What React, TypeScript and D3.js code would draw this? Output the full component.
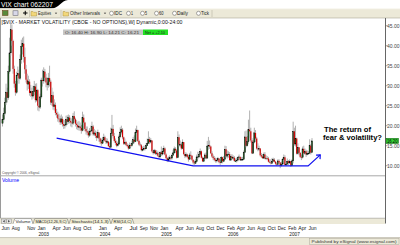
import React from "react";
import * as d3 from "d3";

// ---------- DATA (weekly $VIX bars, Jun 2002 - Jun 2007) ----------
const firstWeek = "2002-06-07";
const lastWeek = "2007-06-22";
const firstOpen = 20.6;

const close2002 = [21.5, 23.0, 25.8, 28.4, 27.0, 33.5, 38.2, 44.0, 41.2, 34.2, 30.5, 28.3, 32.6, 33.1, 31.8, 36.5, 39.8, 40.5, 37.2, 34.1, 31.5, 30.4, 31.0, 28.2, 28.6, 27.4, 28.5, 29.8, 26.4, 28.9];
const high2002 = [22.8, 24.5, 27.0, 30.5, 29.5, 35.0, 42.0, 45.8, 45.3, 41.5, 35.0, 31.2, 33.5, 34.8, 34.0, 37.8, 41.5, 42.0, 42.3, 39.5, 35.2, 33.0, 32.5, 31.6, 30.2, 29.5, 30.0, 31.2, 30.5, 30.6];
const low2002 = [19.8, 21.0, 22.6, 25.2, 25.8, 26.5, 33.0, 37.5, 40.0, 33.0, 29.5, 27.5, 28.0, 31.2, 30.5, 31.5, 35.5, 37.8, 35.8, 33.0, 30.8, 28.8, 29.2, 27.5, 27.2, 26.5, 26.8, 27.6, 25.8, 26.0];

const close2003 = [25.0, 24.6, 27.2, 31.4, 31.2, 33.5, 32.0, 30.8, 30.2, 31.9, 31.0, 25.8, 27.6, 24.8, 25.2, 23.2, 22.8, 21.8, 21.6, 20.9, 21.7, 20.4, 20.0, 20.2, 21.6, 21.0, 22.0, 21.2, 20.8, 20.6, 22.4, 21.6, 20.5, 20.2, 19.6, 19.8, 19.4, 18.8, 22.0, 20.8, 19.2, 18.6, 18.3, 17.6, 18.5, 18.7, 19.8, 17.9, 18.2, 17.5, 17.0, 18.3];
const high2003 = [29.2, 26.8, 28.0, 32.0, 34.0, 34.6, 34.2, 33.0, 32.0, 33.2, 35.0, 31.5, 29.5, 28.5, 26.6, 25.8, 24.2, 23.5, 23.0, 22.5, 22.8, 22.3, 21.5, 21.4, 22.5, 22.6, 22.8, 22.6, 22.0, 21.8, 23.2, 23.6, 22.0, 21.4, 21.0, 21.2, 20.8, 20.2, 23.5, 22.8, 21.0, 19.8, 19.8, 18.8, 19.4, 20.0, 21.0, 20.2, 19.2, 18.8, 18.5, 19.0];
const low2003 = [23.8, 23.6, 24.2, 26.8, 29.8, 30.5, 31.0, 29.6, 28.8, 29.5, 29.8, 25.2, 25.0, 24.0, 23.8, 22.6, 22.0, 21.0, 20.8, 20.2, 20.3, 19.8, 19.2, 19.3, 19.8, 20.2, 20.5, 20.6, 19.8, 19.6, 20.2, 20.8, 19.8, 19.1, 18.9, 18.8, 18.7, 18.0, 18.6, 19.9, 18.6, 17.8, 17.6, 17.0, 17.2, 17.6, 18.4, 17.5, 17.4, 16.9, 16.2, 16.8];

const close2004 = [16.8, 16.0, 15.6, 16.4, 17.1, 16.3, 15.9, 16.0, 14.9, 14.6, 18.0, 19.2, 17.4, 16.2, 15.7, 15.0, 15.4, 17.2, 18.4, 19.0, 17.1, 15.5, 15.9, 15.2, 14.9, 14.3, 15.1, 15.0, 15.6, 16.5, 16.0, 18.3, 18.9, 16.2, 15.3, 15.1, 13.9, 14.0, 14.4, 14.2, 15.0, 15.6, 16.6, 15.9, 16.3, 13.6, 13.2, 13.8, 13.0, 13.2, 12.5, 12.2, 13.3];
const high2004 = [18.2, 17.0, 16.8, 17.2, 18.0, 17.5, 16.9, 16.8, 16.2, 15.8, 19.5, 22.7, 20.2, 18.2, 16.8, 16.3, 16.0, 17.8, 19.6, 20.0, 19.4, 17.3, 16.8, 16.2, 15.6, 15.3, 15.8, 15.6, 16.3, 17.2, 17.6, 19.3, 20.0, 19.0, 16.5, 15.8, 15.4, 14.8, 15.0, 15.0, 15.6, 16.8, 18.6, 17.2, 16.9, 16.2, 14.0, 14.2, 14.0, 13.9, 13.6, 13.0, 13.6];
const low2004 = [16.0, 15.4, 15.0, 15.4, 16.2, 16.0, 15.4, 15.5, 14.6, 14.1, 14.5, 17.6, 16.8, 15.8, 15.1, 14.6, 14.8, 15.2, 16.9, 17.8, 16.6, 15.2, 15.2, 14.9, 14.6, 14.0, 14.2, 14.6, 14.8, 15.4, 15.6, 15.9, 17.6, 15.9, 15.0, 14.8, 13.6, 13.6, 13.8, 13.8, 14.2, 14.9, 15.5, 15.4, 15.6, 13.3, 12.8, 12.9, 12.7, 12.6, 12.2, 11.8, 12.0];

const close2005 = [12.9, 13.5, 14.3, 12.8, 11.9, 11.2, 11.7, 12.0, 11.9, 12.6, 13.2, 14.2, 13.8, 12.0, 17.1, 15.3, 15.3, 14.3, 15.9, 12.9, 12.4, 12.8, 12.2, 11.6, 12.7, 12.5, 11.5, 10.8, 10.6, 11.0, 12.2, 12.2, 12.8, 13.6, 12.0, 11.1, 11.8, 12.7, 11.9, 14.9, 15.1, 14.8, 13.1, 12.3, 11.9, 11.5, 11.2, 11.4, 11.8, 10.9, 10.8, 12.1];
const high2005 = [14.8, 14.4, 15.0, 14.6, 13.1, 12.2, 12.3, 12.6, 12.4, 13.0, 14.0, 14.8, 14.6, 14.2, 18.6, 17.8, 16.3, 15.6, 16.6, 15.8, 13.4, 13.3, 13.0, 12.6, 13.2, 13.6, 12.6, 11.5, 11.3, 11.6, 12.8, 13.5, 13.4, 14.3, 13.8, 12.3, 12.2, 13.2, 13.3, 16.2, 17.2, 16.3, 15.0, 13.6, 12.8, 12.4, 12.0, 11.9, 12.2, 11.8, 11.5, 12.4];
const low2005 = [12.4, 12.6, 13.1, 12.6, 11.7, 10.9, 11.0, 11.4, 11.4, 11.5, 12.4, 13.0, 13.2, 11.8, 11.9, 14.8, 14.6, 14.0, 14.1, 12.6, 11.9, 12.1, 11.9, 11.0, 11.5, 11.9, 11.2, 10.3, 10.2, 10.4, 10.9, 11.6, 11.9, 12.5, 11.8, 10.9, 10.9, 11.6, 11.6, 11.8, 14.0, 14.2, 12.9, 12.0, 11.4, 11.1, 10.8, 10.8, 11.0, 10.6, 10.2, 10.6];

const close2006 = [11.1, 11.6, 14.1, 12.4, 12.8, 12.9, 11.4, 12.3, 11.9, 12.0, 11.2, 11.2, 11.4, 12.0, 12.2, 11.4, 11.6, 11.6, 13.3, 17.2, 15.0, 16.0, 19.0, 18.6, 16.3, 13.1, 15.9, 18.2, 16.8, 14.3, 14.1, 14.3, 12.6, 12.3, 11.9, 12.8, 11.8, 11.9, 11.8, 11.0, 10.8, 10.6, 11.1, 11.5, 11.0, 10.5, 10.3, 11.2, 10.8, 10.0, 10.4, 11.6];
const high2006 = [12.2, 12.4, 15.0, 14.9, 13.8, 13.6, 13.4, 12.8, 12.9, 12.6, 12.4, 11.8, 12.0, 12.3, 12.8, 12.3, 12.2, 12.2, 13.8, 18.6, 18.8, 17.4, 21.5, 23.8, 19.5, 16.9, 16.4, 19.5, 18.9, 17.2, 15.6, 15.0, 14.4, 13.2, 12.9, 13.3, 13.4, 12.6, 12.4, 12.2, 11.6, 11.6, 11.9, 12.0, 11.9, 11.2, 10.9, 11.6, 11.6, 10.9, 11.0, 12.0];
const low2006 = [10.6, 10.9, 11.5, 12.0, 11.8, 12.0, 11.2, 11.2, 11.6, 11.4, 11.0, 10.9, 10.8, 11.1, 11.6, 11.2, 11.3, 11.2, 11.5, 13.2, 14.6, 14.8, 15.5, 17.0, 15.8, 12.9, 13.0, 15.6, 15.9, 14.0, 13.6, 13.7, 12.3, 11.9, 11.7, 11.7, 11.6, 11.4, 11.4, 10.8, 10.6, 10.3, 10.4, 10.9, 10.8, 10.2, 9.9, 10.1, 10.4, 9.4, 9.8, 10.2];

const close2007 = [12.1, 10.2, 10.4, 11.1, 10.7, 11.1, 10.0, 11.2, 18.6, 15.4, 16.8, 13.0, 14.6, 13.2, 12.2, 12.1, 14.2, 13.1, 13.6, 12.8, 13.1, 13.1, 15.0, 13.3, 16.2];
const high2007 = [12.8, 12.6, 11.2, 11.8, 11.4, 11.6, 11.0, 11.6, 21.0, 19.5, 20.0, 17.0, 15.6, 14.6, 13.4, 12.8, 14.8, 15.0, 14.3, 14.0, 13.8, 13.6, 16.6, 15.4, 16.9];
const low2007 = [11.3, 10.1, 9.9, 10.3, 10.2, 10.4, 9.7, 9.9, 10.6, 15.0, 14.8, 12.8, 12.8, 12.6, 11.9, 11.4, 11.8, 12.7, 12.8, 12.2, 12.6, 12.8, 13.2, 12.8, 13.6];

const monthTicks = ["2002-06-01", "2002-08-01", "2002-11-01", "2003-01-01", "2003-04-01", "2003-06-01", "2003-08-01", "2003-10-01", "2004-01-01", "2004-04-01", "2004-07-01", "2004-09-01", "2004-11-01", "2005-01-01", "2005-04-01", "2005-06-01", "2005-08-01", "2005-10-01", "2005-12-01", "2006-02-01", "2006-04-01", "2006-06-01", "2006-08-01", "2006-10-01", "2006-12-01", "2007-02-01", "2007-04-01", "2007-06-01"];
const yearTicks = ["2003-01-01", "2004-01-01", "2005-01-01", "2006-02-01", "2007-02-01"];
const priceTicks = [10, 15, 20, 25, 30, 35, 40, 45];

const trendDates = ["2003-04-25", "2005-07-15", "2007-05-30", "2007-08-10"];
const trendValues = [16.9, 9.95, 9.95, 12.7];

const titleTab = "VIX chart 062207";
const headerText = "[$VIX - MARKET VOLATILITY (CBOE - NO OPTIONS),W] Dynamic,0:00-24:00";
const ohlcText = "O: 16.40   H: 16.90   L: 14.21   C: 16.21";
const netText = "Net = +2.10";
const noteLines = ["The return of", "fear & volatility?"];
const paneTabs = ["Volume", "MACD(12,26,9,C)", "Stochastic(14,1,3)", "RSI(14,C)"];

// ---------- helpers ----------
const parse = d3.timeParse("%Y-%m-%d");
const FONT = "'Liberation Sans', Arial, Helvetica, sans-serif";

export default function App() {
  const closes = [...close2002, ...close2003, ...close2004, ...close2005, ...close2006, ...close2007];
  const highs = [...high2002, ...high2003, ...high2004, ...high2005, ...high2006, ...high2007];
  const lows = [...low2002, ...low2003, ...low2004, ...low2005, ...low2006, ...low2007];
  const weeks = d3.timeFriday.range(parse(firstWeek)!, d3.timeDay.offset(parse(lastWeek)!, 1));
  const n = Math.min(weeks.length, closes.length);

  const bars = d3.range(n).map((i) => {
    const o = i === 0 ? firstOpen : closes[i - 1];
    const c = closes[i];
    return {
      date: weeks[i],
      o,
      c,
      h: Math.max(highs[i], o, c),
      l: Math.min(lows[i], o, c),
    };
  });

  const x = d3.scaleTime().domain([weeks[0], weeks[n - 1]]).range([2.5, 312]);
  const y = d3.scaleLinear().domain([10, 45]).range([165.7, 25.7]);

  const fmtMonth = d3.timeFormat("%b");
  const fmtYear = d3.timeFormat("%Y");

  const trendPts = trendDates.map((d, i) => [x(parse(d)!), y(trendValues[i])] as [number, number]);
  const trendPath = d3.line()(trendPts) || "";
  const tip = trendPts[trendPts.length - 1];

  const last = bars[n - 1];

  const tb = [
    { icon: "folder", x: 31, label: "Equities", lx: 38, lw: 13, drop: 56 },
    { icon: "folder", x: 63, label: "Other Intervals", lx: 70, lw: 30, drop: 105 },
    { icon: "circle", x: 110, label: "IDC", lx: 114, lw: 8 },
    { icon: "circle", x: 127, label: "1", lx: 131, lw: 2 },
    { icon: "circle", x: 141, label: "5", lx: 145, lw: 2 },
    { icon: "circle", x: 155, label: "60", lx: 159, lw: 4.5 },
    { icon: "circle", x: 173, label: "Daily", lx: 177, lw: 11 },
    { icon: "circle", x: 197, label: "Tick", lx: 201, lw: 8 },
  ];

  const tabGeom = [
    { x0: 13, x1: 33, w: 15 },
    { x0: 33, x1: 69, w: 31 },
    { x0: 69, x1: 111, w: 37 },
    { x0: 111, x1: 134, w: 18 },
  ];

  return (
    <svg
      width={400}
      height={245}
      viewBox="0 0 400 245"
      style={{ position: "fixed", left: 0, top: 0, background: "#fff" }}
      fontFamily={FONT}
    >
      <rect x={0} y={0} width={400} height={245} fill="#fff" />

      {/* title tab */}
      <path d="M0,0 L68,0 C61,0.5 59,8.5 51,8.5 L0,8.5 Z" fill="#000" />
      <text x={1} y={6.8} fontSize={6.6} fill="#fff" textLength={52} lengthAdjust="spacingAndGlyphs">
        {titleTab}
      </text>

      {/* toolbar */}
      <rect x={0} y={8.5} width={400} height={9.5} fill="#ece9d8" />
      <line x1={0} x2={400} y1={8.75} y2={8.75} stroke="#fff" strokeWidth={0.5} />
      <line x1={0} x2={400} y1={18} y2={18} stroke="#aca899" strokeWidth={0.6} />
      <rect x={2.5} y={10.5} width={5.5} height={5} fill="#5a8a3a" stroke="#6b4a20" strokeWidth={0.6} />
      <rect x={13} y={10.8} width={5} height={4.5} fill="#d8d8e8" stroke="#556" strokeWidth={0.5} />
      <path d="M23,13 H27.5 M25.25,10.8 V15.2" stroke="#000" strokeWidth={1} />
      <line x1={29.5} x2={29.5} y1={10} y2={17} stroke="#aca899" strokeWidth={0.5} />
      {tb.map((t, i) => (
        <g key={i}>
          {t.icon === "folder" ? (
            <path
              d={`M${t.x},11.5 h2 l0.8,0.8 h2.7 v3.7 h-5.5 Z`}
              fill="#f2d77a"
              stroke="#a08030"
              strokeWidth={0.4}
            />
          ) : (
            <circle cx={t.x + 1.5} cy={13.3} r={2} fill="#fff" stroke="#444" strokeWidth={0.45} />
          )}
          <text x={t.lx} y={15} fontSize={4.6} fill="#222" textLength={t.lw} lengthAdjust="spacingAndGlyphs">
            {t.label}
          </text>
          {t.drop !== undefined && (
            <path d={`M${t.drop - 1.2},12.8 h2.4 l-1.2,1.3 Z`} fill="#222" />
          )}
        </g>
      ))}
      <line x1={61} x2={61} y1={10} y2={17} stroke="#aca899" strokeWidth={0.5} />
      <line x1={212} x2={212} y1={10} y2={17} stroke="#aca899" strokeWidth={0.5} />

      {/* left border */}
      <line x1={0.5} x2={0.5} y1={18} y2={218} stroke="#9a9a9a" strokeWidth={1} />

      {/* header */}
      <text x={1.5} y={24.3} fontSize={4.9} fill="#111" textLength={181} lengthAdjust="spacingAndGlyphs">
        {headerText}
      </text>
      <rect x={63} y={29.5} width={80} height={5.5} fill="#c6c6c6" />
      <text x={65} y={33.8} fontSize={4.2} fill="#333" textLength={74} lengthAdjust="spacingAndGlyphs">
        {ohlcText}
      </text>
      <rect x={143} y={29.5} width={25} height={5.5} fill="#22e022" />
      <text x={145} y={33.8} fontSize={4.2} fill="#222" textLength={20} lengthAdjust="spacingAndGlyphs">
        {netText}
      </text>

      {/* candles */}
      <g>
        {bars.map((b, i) => {
          const cx = x(b.date);
          const top = y(Math.max(b.o, b.c));
          const bot = y(Math.min(b.o, b.c));
          const up = b.c >= b.o;
          return (
            <g key={i}>
              <line x1={cx} x2={cx} y1={y(b.h)} y2={y(b.l)} stroke="#a8a8a8" strokeWidth={0.9} />
              <rect
                x={cx - 0.6}
                y={top}
                width={1.2}
                height={Math.max(0.7, bot - top)}
                fill={up ? "#1f5a1f" : "#d00000"}
                stroke={up ? "#000" : "none"}
                strokeWidth={up ? 0.35 : 0}
              />
            </g>
          );
        })}
      </g>

      {/* trend annotation */}
      <path d={trendPath} fill="none" stroke="#1010f0" strokeWidth={1.2} />
      <path
        d={`M${tip[0] - 4.2},${tip[1] + 0.2} L${tip[0]},${tip[1]} L${tip[0] - 0.2},${tip[1] + 4.2}`}
        fill="none"
        stroke="#1010f0"
        strokeWidth={1.2}
      />
      <text x={324} y={131.6} fontSize={7.6} fontWeight="bold" fill="#000" textLength={47} lengthAdjust="spacingAndGlyphs">
        {noteLines[0]}
      </text>
      <text x={323} y={139.6} fontSize={7.5} fontWeight="bold" fill="#000" textLength={59} lengthAdjust="spacingAndGlyphs">
        {noteLines[1]}
      </text>

      {/* right price axis */}
      <line x1={385.5} x2={385.5} y1={18} y2={223.5} stroke="#666" strokeWidth={1} />
      {priceTicks.map((t) => (
        <g key={t}>
          <line x1={385.5} x2={387.5} y1={y(t)} y2={y(t)} stroke="#666" strokeWidth={0.6} />
          <text x={387} y={y(t) + 1.8} fontSize={5.2} fill="#444" textLength={12.5} lengthAdjust="spacingAndGlyphs">
            {d3.format(".2f")(t)}
          </text>
        </g>
      ))}
      <rect x={386} y={y(last.c) - 2.6} width={12.5} height={5.2} fill="#33cc33" stroke="#0a5a0a" strokeWidth={0.5} />
      <text x={387} y={y(last.c) + 1.7} fontSize={4.6} fill="#000" textLength={10.5} lengthAdjust="spacingAndGlyphs">
        {d3.format(".2f")(last.c)}
      </text>

      {/* copyright + pane separator + volume label */}
      <text x={2} y={174} fontSize={3.4} fill="#555" textLength={38} lengthAdjust="spacingAndGlyphs">
        Copyright © 2006, eSignal.
      </text>
      <line x1={0} x2={385} y1={175.8} y2={175.8} stroke="#a8a8a8" strokeWidth={1} />
      <text x={2} y={182.3} fontSize={5.4} fill="#0000ff" textLength={17} lengthAdjust="spacingAndGlyphs">
        Volume
      </text>

      {/* pane tab bar */}
      <rect x={0} y={218} width={385} height={6} fill="#ece9d8" />
      <line x1={0} x2={385} y1={218.2} y2={218.2} stroke="#8a8a8a" strokeWidth={0.5} />
      <rect x={1.5} y={219} width={4.5} height={4.3} fill="#e4e4e4" stroke="#777" strokeWidth={0.4} />
      <rect x={6.8} y={219} width={4.5} height={4.3} fill="#e4e4e4" stroke="#777" strokeWidth={0.4} />
      <path d="M4.6,219.9 L2.9,221.15 L4.6,222.4 Z" fill="#333" />
      <path d="M8.2,219.9 L9.9,221.15 L8.2,222.4 Z" fill="#333" />
      {paneTabs.map((label, i) => {
        const g = tabGeom[i];
        return (
          <g key={label}>
            <path
              d={`M${g.x0},223.8 L${g.x0 + 1.8},218.6 L${g.x1 - 1.8},218.6 L${g.x1},223.8`}
              fill={i === 0 ? "#fff" : "#f1eed6"}
              stroke="#555"
              strokeWidth={0.45}
            />
            <text x={g.x0 + 2.5} y={222.6} fontSize={4.2} fill="#222" textLength={g.w} lengthAdjust="spacingAndGlyphs">
              {label}
            </text>
          </g>
        );
      })}

      {/* time axis labels */}
      {monthTicks.map((d) => {
        const dt = parse(d)!;
        return (
          <text key={d} x={x(dt)} y={230.4} fontSize={5.3} fill="#111" textLength={8} lengthAdjust="spacingAndGlyphs">
            {fmtMonth(dt)}
          </text>
        );
      })}
      {yearTicks.map((d) => {
        const dt = parse(d)!;
        return (
          <text key={d} x={x(dt) + 1} y={236.4} fontSize={5.3} fill="#111" textLength={10.5} lengthAdjust="spacingAndGlyphs">
            {fmtYear(dt)}
          </text>
        );
      })}

      {/* status bar */}
      <rect x={0} y={237.5} width={400} height={7.5} fill="#ece9d8" />
      <line x1={0} x2={400} y1={237.6} y2={237.6} stroke="#aca899" strokeWidth={0.6} />
      <rect x={309.5} y={238.6} width={89.5} height={5.8} fill="none" stroke="#aca899" strokeWidth={0.5} />
      <text x={311.5} y={243} fontSize={4.3} fill="#333" textLength={85} lengthAdjust="spacingAndGlyphs">
        Published by eSignal (www.esignal.com)
      </text>
    </svg>
  );
}
